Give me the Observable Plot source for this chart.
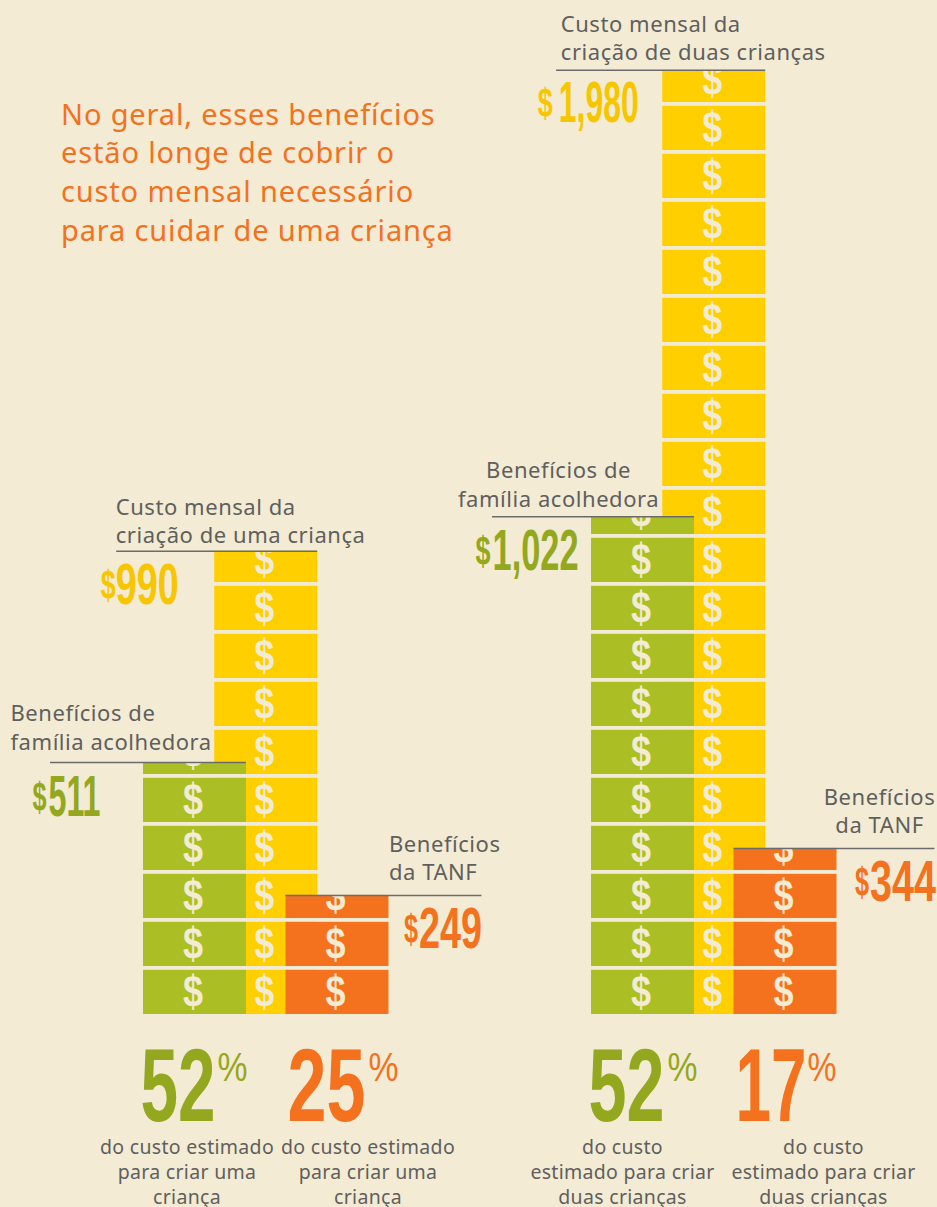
<!DOCTYPE html>
<html><head><meta charset="utf-8">
<script src="https://cdn.jsdelivr.net/npm/d3@7"></script>
<script src="https://cdn.jsdelivr.net/npm/@observablehq/plot@0.6"></script>
<style>
html,body{margin:0;padding:0;background:#F3EBD3;}
svg{display:block;}
</style></head><body><div id="chart"></div>
<script>
// ---- data ----
const titleText = "No geral, esses benefícios\nestão longe de cobrir o\ncusto mensal necessário\npara cuidar de uma criança";
const seriesNames = ["custo", "familia", "tanf"];
const amountsOneChild = [990, 511, 249];
const amountsTwoChildren = [1980, 1022, 344];
// heights of the pictograms as drawn ($100 per row of the picture)
const drawnOneChild = [965, 525, 248];
const drawnTwoChildren = [1967, 1037, 346];
const percentOneChild = [52, 25];
const percentTwoChildren = [52, 17];
const labelOneChild = ["Custo mensal da\ncriação de uma criança", "Benefícios de\nfamília acolhedora", "Benefícios\nda TANF"];
const labelTwoChildren = ["Custo mensal da\ncriação de duas crianças", "Benefícios de\nfamília acolhedora", "Benefícios\nda TANF"];
const captionOneChild = ["do custo estimado\npara criar uma\ncriança", "do custo estimado\npara criar uma\ncriança"];
const captionTwoChildren = ["do custo\nestimado para criar\nduas crianças", "do custo\nestimado para criar\nduas crianças"];

// ---- styling ----
const BG = "#F3EBD3", GRAY = "#5F5F5F";
const barFill = {custo: "#FFCF00", familia: "#ABBF25", tanf: "#F4711E"};
const numFill = {custo: "#F7C600", familia: "#93A81E", tanf: "#F4711E"};
const BODY = "'Noto Sans', sans-serif";
const NARROW = "'Liberation Sans Narrow', 'Liberation Sans', sans-serif";

// layout of bars in slot units
const chartStart = [2.007, 8.295];
const slotOf = {custo: 1, familia: 0, tanf: 2};
const barWidth = 1.445;
const rowUnit = 100, rowFill = 92;

const bars = [];
[[amountsOneChild, drawnOneChild, labelOneChild], [amountsTwoChildren, drawnTwoChildren, labelTwoChildren]].forEach(([am, dr, lb], c) => {
  seriesNames.forEach((s, i) => {
    const x0 = chartStart[c] + slotOf[s];
    bars.push({chart: c, series: s, amount: am[i], drawn: dr[i], label: lb[i], x0, x1: x0 + barWidth});
  });
});
function rowsOf(b) {
  const out = [];
  for (let r = 0; r * rowUnit < b.drawn; r++) {
    out.push({...b, y1: r * rowUnit, y2: Math.min(r * rowUnit + rowFill, b.drawn), yc: r * rowUnit + rowFill / 2});
  }
  return out;
}
let clipId = 0;
function fitText(g, w) {
  d3.select(g).selectAll("text").each(function () {
    this.setAttribute("textLength", w);
    this.setAttribute("lengthAdjust", "spacingAndGlyphs");
  });
}
function clippedDollar(b) {
  return Plot.text(rowsOf(b), {
    x: d => (d.x0 + d.x1) / 2, y: "yc", text: () => "$", dx: -2, dy: 0,
    fill: BG, fontFamily: NARROW, fontWeight: 700, fontSize: 45, lineAnchor: "middle",
    render(index, scales, values, dims, ctx, next) {
      const g = next(index, scales, values, dims, ctx);
      fitText(g, 20);
      const id = "dollar-clip-" + (++clipId);
      const ns = "http://www.w3.org/2000/svg";
      const cp = ctx.document.createElementNS(ns, "clipPath");
      cp.setAttribute("id", id);
      const r = ctx.document.createElementNS(ns, "rect");
      const top = scales.y(b.drawn);
      r.setAttribute("x", 0); r.setAttribute("y", top);
      r.setAttribute("width", dims.width); r.setAttribute("height", dims.height - top);
      cp.appendChild(r);
      g.appendChild(cp);
      g.setAttribute("clip-path", `url(#${id})`);
      return g;
    }
  });
}
// squeeze a text to a measured width, the fonts installed being wider than the original
function fit(w) {
  return function (index, scales, values, dims, ctx, next) {
    const g = next(index, scales, values, dims, ctx);
    fitText(g, w);
    return g;
  };
}
// letter spacing for body text
function spaced(sp) {
  return function (index, scales, values, dims, ctx, next) {
    const g = next(index, scales, values, dims, ctx);
    g.style.letterSpacing = sp + "px";
    return g;
  };
}
function bigText(t, b, dx, dy, size, width, fill, weight = 700, family = NARROW) {
  return Plot.text([b], {
    x: "x0", y: "drawn", text: () => t, dx, dy, fill, fontFamily: family, fontWeight: weight,
    fontSize: size, textAnchor: "start", lineAnchor: "bottom", render: fit(width)
  });
}
const barAt = (c, s) => bars.find(b => b.chart === c && b.series === s);

// label placement relative to each bar's left edge and top: dx, dy of last baseline, anchor
const labelPlace = [
  [0, "custo", -99, -8, "start"], [0, "familia", -133, -13, "start"], [0, "tanf", 103, -15, "start"],
  [1, "custo", -102, -10, "start"], [1, "familia", -33, -10, "middle"], [1, "tanf", 145.5, -15, "middle"]
];
const labelMarks = labelPlace.map(([c, s, dx, dy, anchor]) => {
  const b = barAt(c, s);
  return Plot.text([b], {
    x: "x0", y: "drawn", text: "label", dx, dy, textAnchor: anchor, lineAnchor: "bottom",
    fontFamily: BODY, fontSize: 22, lineHeight: 1.3, fill: GRAY, render: spaced(0.55)
  });
});
// rules under each label
const ruleExtent = [
  [0, "custo", -1.376, 1.445], [0, "familia", -1.305, 1.445], [0, "tanf", 0, 2.75],
  [1, "custo", -1.49, 1.445], [1, "familia", -1.39, 1.445], [1, "tanf", 0, 2.82]
].map(([c, s, a, z]) => {
  const b = barAt(c, s);
  return {y: b.drawn, x1: b.x0 + a, x2: b.x0 + z};
});
// amount numbers: $ sign + digits (dx from bar left, dy from bar top)
const fmtAmount = v => d3.format(",")(v);
const amountPlace = [
  [0, "custo", -114, 53, 15, -99, 63], [0, "familia", -111, 53, 14, -95, 52], [0, "tanf", 118, 53, 14, 133, 63],
  [1, "custo", -125, 52, 15, -104, 80], [1, "familia", -116, 53, 15, -99, 86], [1, "tanf", 121, 53, 14, 136, 66]
];
const amountMarks = amountPlace.flatMap(([c, s, sx, dy, sw, dx, w]) => {
  const b = barAt(c, s);
  return [
    bigText("$", b, sx, dy - 5, 40, sw, numFill[s]),
    bigText(fmtAmount(b.amount), b, dx, dy, 58, w, numFill[s])
  ];
});
// percent block
const percentRows = [
  {chart: 0, series: "familia", v: percentOneChild[0], cap: captionOneChild[0]},
  {chart: 0, series: "tanf", v: percentOneChild[1], cap: captionOneChild[1]},
  {chart: 1, series: "familia", v: percentTwoChildren[0], cap: captionTwoChildren[0]},
  {chart: 1, series: "tanf", v: percentTwoChildren[1], cap: captionTwoChildren[1]}
];
const percentPlace = [[-3, 75, 77, 30, 43.5], [1.5, 78, 81, 30, 82], [-3, 76, 79, 30, 31], [1.5, 71, 72, 29, 89.5]];
const percentMarks = percentRows.flatMap((p, i) => {
  const [dx, w, pdx, pw, capDx] = percentPlace[i];
  const b = barAt(p.chart, p.series);
  const row = {x0: b.x0, y: 0, cap: p.cap};
  return [
    Plot.text([row], {x: "x0", y: "y", text: () => String(p.v), dx, dy: 106, fontFamily: NARROW, fontWeight: 700, fontSize: 104, fill: numFill[p.series], textAnchor: "start", lineAnchor: "bottom", render: fit(w)}),
    Plot.text([row], {x: "x0", y: "y", text: () => "%", dx: dx + pdx, dy: 66, fontFamily: NARROW, fontWeight: 400, fontSize: 41, fill: numFill[p.series], textAnchor: "start", lineAnchor: "bottom", render: fit(pw)}),
    Plot.text([row], {x: "x0", y: "y", text: "cap", dx: capDx, dy: 122, fontFamily: BODY, fontSize: 19.5, lineHeight: 1.28, fill: GRAY, textAnchor: "middle", lineAnchor: "top", render: spaced(0.3)})
  ];
});

const order = ["custo", "familia", "tanf"];
const barMarks = [];
[0, 1].forEach(c => order.forEach(s => {
  const b = barAt(c, s);
  barMarks.push(Plot.rect(rowsOf(b), {x1: "x0", x2: "x1", y1: "y1", y2: "y2", fill: barFill[s], inset: 0}));
  barMarks.push(clippedDollar(b));
}));

const plot = Plot.plot({
  width: 937, height: 1207, margin: 0,
  style: {background: BG},
  x: {domain: [0, 937 / 71.25], range: [0, 937], axis: null},
  y: {domain: [-193 / 0.48, 1014 / 0.48], range: [1207, 0], axis: null},
  marks: [
    ...barMarks,
    Plot.ruleY(ruleExtent, {y: "y", x1: "x1", x2: "x2", stroke: "#6B6B6B", strokeWidth: 1.5}),
    ...labelMarks,
    ...amountMarks,
    ...percentMarks,
    Plot.text([titleText], {frameAnchor: "top-left", dx: 60.5, dy: 97, text: d => d, fontFamily: BODY, fontSize: 29, lineHeight: 1.33, fill: "#F4711E", textAnchor: "start", lineAnchor: "top", render: spaced(0.85)})
  ]
});
document.getElementById("chart").appendChild(plot);
</script></body></html>
